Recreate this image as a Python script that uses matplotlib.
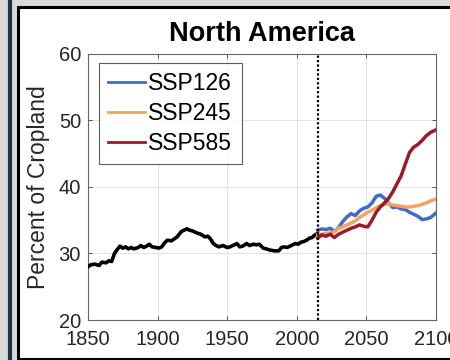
import matplotlib
matplotlib.use("Agg")
import matplotlib.pyplot as plt
from matplotlib.patches import Rectangle
from matplotlib.lines import Line2D

plt.rcParams['font.family'] = ['Liberation Sans', 'DejaVu Sans']

# historical cropland share
hist_years = [1850, 1852, 1855, 1858, 1860, 1863, 1865, 1867, 1869, 1871, 1873,
              1875, 1877, 1879, 1881, 1883, 1886, 1888, 1890, 1892, 1894, 1896,
              1899, 1901, 1903, 1905, 1907, 1910, 1912, 1914, 1917, 1919, 1921,
              1923, 1925, 1928, 1931, 1934, 1936, 1938, 1940, 1942, 1944, 1947,
              1950, 1952, 1954, 1957, 1959, 1961, 1964, 1966, 1969, 1971, 1973,
              1976, 1978, 1981, 1984, 1987, 1989, 1991, 1993, 1995, 1997, 1999,
              2001, 2003, 2005, 2007, 2009, 2011, 2013, 2015]
hist_vals = [28.0, 28.3, 28.4, 28.2, 28.7, 28.6, 28.9, 28.8, 30.0, 30.6, 31.1,
             30.8, 31.0, 30.7, 30.9, 30.7, 30.9, 31.2, 30.9, 31.1, 31.4, 31.0,
             30.9, 30.8, 31.0, 31.6, 32.0, 31.9, 32.2, 32.5, 33.3, 33.5, 33.7,
             33.5, 33.4, 33.1, 32.9, 32.5, 32.6, 32.2, 31.5, 31.2, 31.0, 31.2,
             30.9, 31.0, 31.2, 31.5, 31.0, 31.1, 31.5, 31.2, 31.4, 31.3, 31.4,
             30.8, 30.7, 30.5, 30.4, 30.4, 30.9, 31.0, 30.9, 31.1, 31.3, 31.5,
             31.4, 31.7, 31.8, 32.0, 32.3, 32.4, 32.8, 33.0]

# scenario projections
ssp_years = [2015, 2018, 2021, 2024, 2027, 2030, 2033, 2036, 2039, 2042, 2045,
             2048, 2051, 2054, 2057, 2060, 2063, 2066, 2069, 2072, 2075, 2078,
             2081, 2084, 2087, 2090, 2093, 2096, 2100]
ssp126 = [33.5, 33.7, 33.6, 33.8, 33.3, 33.9, 34.8, 35.5, 36.0, 35.7, 36.4,
          36.8, 37.0, 37.6, 38.6, 38.8, 38.3, 37.6, 36.9, 37.0, 36.7, 36.6,
          36.2, 35.9, 35.6, 35.1, 35.2, 35.4, 36.1]
ssp245 = [32.8, 32.9, 33.0, 33.1, 33.3, 33.8, 34.0, 34.3, 34.6, 34.9, 35.4,
          35.8, 36.2, 36.5, 36.9, 37.2, 37.4, 37.5, 37.3, 37.2, 37.1, 37.0,
          37.0, 37.1, 37.2, 37.4, 37.6, 37.9, 38.2]
ssp585 = [32.3, 32.8, 32.6, 32.9, 32.4, 32.9, 33.2, 33.5, 33.8, 34.0, 34.3,
          34.1, 34.0, 35.0, 36.2, 37.0, 37.6, 38.3, 39.3, 40.5, 41.7, 43.5,
          45.2, 46.0, 46.4, 47.0, 47.7, 48.2, 48.6]
series_labels = ['SSP126', 'SSP245', 'SSP585']
series_colors = ['#3f6cc8', '#f2a35e', '#9a1b2c']

fig = plt.figure(figsize=(4.5, 3.6), dpi=100, facecolor='#dadada')

# slide-style frame around the panel
fig.add_artist(Rectangle((18.3 / 450, 1.5 / 360), 1.0, (360 - 6.5 - 1.5) / 360,
                         transform=fig.transFigure, facecolor='white',
                         edgecolor='black', linewidth=2.2, zorder=0))
fig.add_artist(Line2D([9.5 / 450, 9.5 / 450], [0, 1], transform=fig.transFigure,
                      color='#1b3445', linewidth=3.0, zorder=1))

ax = fig.add_axes([88 / 450, 40 / 360, 348 / 450, 266 / 360])
ax.set_facecolor('white')

ax.plot(hist_years, hist_vals, color='black', linewidth=2.6, zorder=3)
for vals, lab, col in zip([ssp126, ssp245, ssp585], series_labels, series_colors):
    ax.plot(ssp_years, vals, color=col, linewidth=2.5, label=lab, zorder=3)

ax.axvline(2015, color='black', linestyle=(0, (1, 1)), linewidth=1.6, zorder=4)

ax.set_xlim(1850, 2100)
ax.set_ylim(20, 60)
ax.set_xticks([1850, 1900, 1950, 2000, 2050, 2100])
ax.set_yticks([20, 30, 40, 50, 60])
ax.grid(True, color='#e3e3e3', linewidth=0.7, zorder=0)
ax.set_axisbelow(True)
ax.tick_params(direction='in', length=3, width=0.7, color='#555555',
               labelsize=14.5, labelcolor='#262626', top=True, right=True)
ax.tick_params(axis='x', pad=7)
ax.tick_params(axis='y', pad=5)
for s in ax.spines.values():
    s.set_color('#666666')
    s.set_linewidth(0.8)

ax.set_title('North America', fontsize=19.5, fontweight='bold', pad=9)
ax.set_ylabel('Percent of Cropland', fontsize=16.5, color='#262626', labelpad=6)

leg = ax.legend(loc='upper left', bbox_to_anchor=(0.032, 0.966), borderaxespad=0,
                fontsize=16.5, handlelength=1.6, handletextpad=0.15,
                labelspacing=0.3, borderpad=0.4, frameon=True, fancybox=False)
leg.get_frame().set_edgecolor('#333333')
leg.get_frame().set_linewidth(0.8)
for h in leg.get_lines():
    h.set_linewidth(2.0)

fig.savefig('out.png', dpi=100, facecolor=fig.get_facecolor())
